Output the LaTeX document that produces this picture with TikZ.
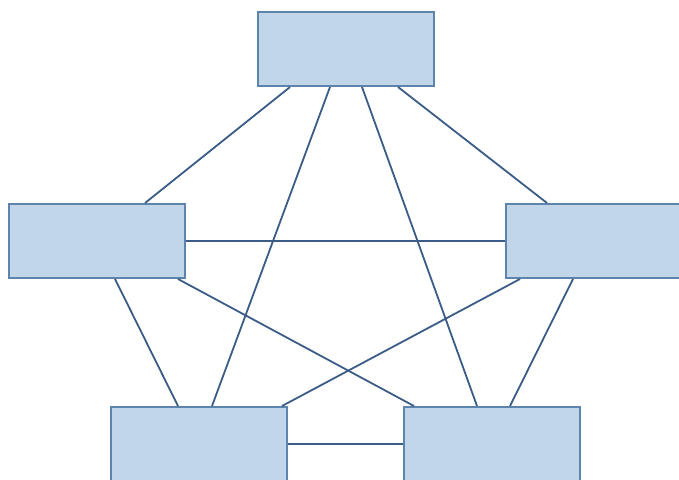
\documentclass[tikz,border=0pt]{standalone}
\definecolor{boxfill}{RGB}{194,214,233}
\definecolor{boxdraw}{RGB}{92,132,172}
\definecolor{linecol}{RGB}{58,92,134}
\begin{document}
\begin{tikzpicture}[x=1pt,y=-1pt,
  pbox/.style={draw=boxdraw,fill=boxfill,line width=2pt,rectangle,inner sep=0pt,minimum width=176pt,minimum height=74pt},
  conn/.style={draw=linecol,line width=1.8pt}]
\useasboundingbox (0,0) rectangle (679,479);
\clip (0,0) rectangle (679,479);
\node[pbox] (top) at (346,49) {};
\node[pbox] (left) at (97,241) {};
\node[pbox,minimum width=174pt] (right) at (593,241) {};
\node[pbox] (bl) at (198.5,444) {};
\node[pbox] (br) at (492,444) {};
\draw[conn] ([xshift=-56pt]top.south) -- ([xshift=48pt]left.north);
\draw[conn] ([xshift=-16pt]top.south) -- ([xshift=13.5pt]bl.north);
\draw[conn] ([xshift=16pt]top.south) -- ([xshift=-15pt]br.north);
\draw[conn] ([xshift=52pt]top.south) -- ([xshift=-46pt]right.north);
\draw[conn] (left.east) -- (right.west);
\draw[conn] ([xshift=18pt]left.south) -- ([xshift=-20.5pt]bl.north);
\draw[conn] ([xshift=81pt]left.south) -- ([xshift=-78pt]br.north);
\draw[conn] ([xshift=-73pt]right.south) -- ([xshift=83.5pt]bl.north);
\draw[conn] ([xshift=-20pt]right.south) -- ([xshift=18pt]br.north);
\draw[conn] (bl.east) -- (br.west);
\end{tikzpicture}
\end{document}
